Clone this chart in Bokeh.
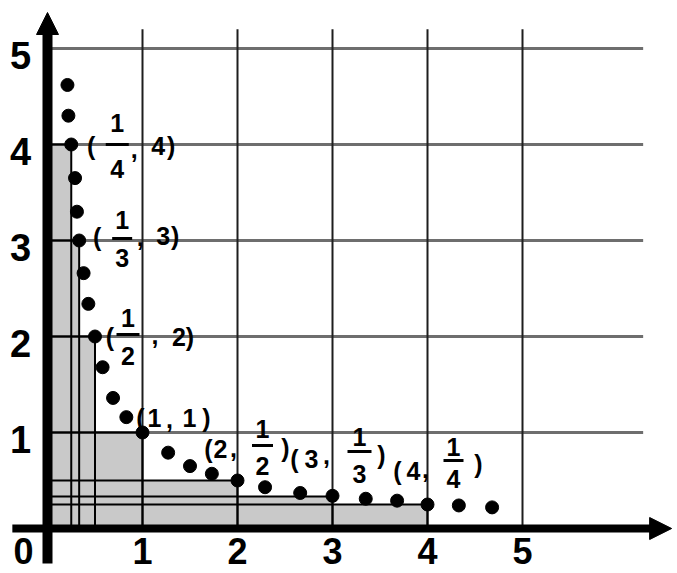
from bokeh.plotting import figure
from bokeh.models import ColumnDataSource, Range1d, Arrow, NormalHead
from bokeh.embed import file_html
from bokeh.resources import INLINE
from bokeh.core.properties import value

# ---------------- data ----------------
dot_x = [0.21, 0.22, 0.25, 0.29, 0.31, 1/3, 0.38, 0.43, 0.5, 0.58, 0.69, 0.83, 1.0,
         1.27, 1.5, 1.73, 2.0, 2.29, 2.66, 3.0, 3.35, 3.68, 4.0, 4.33, 4.68]
dot_y = [4.62, 4.3, 4.0, 3.65, 3.3, 3.0, 2.66, 2.34, 2.0, 1.68, 1.36, 1.16, 1.0,
         0.79, 0.65, 0.57, 0.5, 0.43, 0.37, 0.34, 0.31, 0.29, 0.25, 0.24, 0.22]

pt_x = [1/4, 1/3, 1/2, 1, 2, 3, 4]
pt_y = [4, 3, 2, 1, 1/2, 1/3, 1/4]
pt_x_text = ["1/4", "1/3", "1/2", "1", "2", "3", "4"]
pt_y_text = ["4", "3", "2", "1", "1/2", "1/3", "1/4"]

x_ticks = [1, 2, 3, 4, 5]
y_ticks = [1, 2, 3, 4, 5]
x_tick_labels = ["1", "2", "3", "4", "5"]
y_tick_labels = ["1", "2", "3", "4", "5"]
origin_label = "0"

grid_x_max = 6.27
grid_y_max = 5.2
axis_x_min = -0.37
axis_y_min = -0.365
axis_x_end = 6.57
axis_y_end = 5.375

# ---------------- layout ----------------
W, H = 677, 573
PX_X, PX_Y = 95.0, 96.0
OX, OY = 47.0, 528.0  # origin in figure pixels
x_start, x_end = -OX / PX_X, (W - OX) / PX_X
y_end, y_start = OY / PX_Y, (OY - H) / PX_Y

FONT = value("Liberation Sans")

p = figure(width=W, height=H, x_range=Range1d(x_start, x_end), y_range=Range1d(y_start, y_end),
           output_backend="svg", toolbar_location=None, min_border=0,
           x_axis_type=None, y_axis_type=None)
p.grid.visible = False
p.outline_line_color = None
p.background_fill_color = "white"
p.border_fill_color = "white"

# shaded rectangles
p.quad(left=[0] * len(pt_x), bottom=[0] * len(pt_x), right=pt_x, top=pt_y,
       fill_color="#c9c9c9", line_color=None)

# grid lines
p.segment(x0=[0] * len(y_ticks), y0=y_ticks, x1=[grid_x_max] * len(y_ticks), y1=y_ticks,
          line_color="#6e6e6e", line_width=3)
p.segment(x0=x_ticks, y0=[0] * len(x_ticks), x1=x_ticks, y1=[grid_y_max] * len(x_ticks),
          line_color="#1e1e1e", line_width=2)

# rectangle edges
p.segment(x0=pt_x, y0=[0] * len(pt_x), x1=pt_x, y1=pt_y, line_color="black", line_width=2)
p.segment(x0=[0] * len(pt_x), y0=pt_y, x1=pt_x, y1=pt_y, line_color="black", line_width=2)

# axes
p.segment(x0=[0], y0=[axis_y_min], x1=[0], y1=[axis_y_end - 14 / PX_Y],
          line_color="black", line_width=10)
p.segment(x0=[axis_x_min], y0=[0], x1=[axis_x_end - 14 / PX_X], y1=[0],
          line_color="black", line_width=8)
p.add_layout(Arrow(end=NormalHead(size=22, fill_color="black", line_color="black"),
                   x_start=0, y_start=axis_y_end - 0.3, x_end=0, y_end=axis_y_end, line_alpha=0))
p.add_layout(Arrow(end=NormalHead(size=22, fill_color="black", line_color="black"),
                   x_start=axis_x_end - 0.3, y_start=0, x_end=axis_x_end, y_end=0, line_alpha=0))

# dots
p.scatter(dot_x, dot_y, size=13, color="black")

# label layout (pixel offsets relative to each labelled point; y down)
LAYOUT = [
    dict(open=(20, 1), first=(46, 1), comma=(63, 4), second=(87, 1), close=(100, 1), num=-22, bar=0, den=24, half=11.5),
    dict(open=(18, -4), first=(43, -4), comma=(61, -4), second=(84, -5), close=(96, -5), num=-21, bar=-2, den=17, half=10),
    dict(open=(15, 0), first=(33, 0), comma=(60, -2), second=(84, 0), close=(95, 0), num=-19, bar=-2, den=19, half=11.5),
    dict(open=(-2, -15), first=(12, -15), comma=(27, -14), second=(47, -15), close=(64, -15), num=0, bar=0, den=0, half=0),
    dict(open=(-29, -32), first=(-17, -32), comma=(-4, -33), second=(25, -32), close=(48, -33), num=-52, bar=-35, den=-15, half=10.5),
    dict(open=(-38, -38), first=(-21, -38), comma=(-6, -42), second=(27, -38), close=(49, -42), num=-60, bar=-45, den=-23, half=12),
    dict(open=(-30, -34), first=(-14, -34), comma=(-2, -36), second=(26, -34), close=(51, -41), num=-58, bar=-44, den=-26, half=10),
]

tx, ty, tt, tdx, tdy = [], [], [], [], []
bx0, bx1, by = [], [], []


def add_text(i, s, dx, dy):
    tx.append(pt_x[i]); ty.append(pt_y[i]); tt.append(s); tdx.append(dx); tdy.append(dy)


def add_element(i, s, pos, lay):
    if "/" in s:
        num, den = s.split("/")
        cx = pos[0]
        add_text(i, num, cx, lay["num"])
        add_text(i, den, cx, lay["den"])
        bx0.append(pt_x[i] + (cx - lay["half"]) / PX_X)
        bx1.append(pt_x[i] + (cx + lay["half"]) / PX_X)
        by.append(pt_y[i] - lay["bar"] / PX_Y)
    else:
        add_text(i, s, pos[0], pos[1])


for i, lay in enumerate(LAYOUT):
    add_text(i, "(", *lay["open"])
    add_element(i, pt_x_text[i], lay["first"], lay)
    add_text(i, ",", *lay["comma"])
    add_element(i, pt_y_text[i], lay["second"], lay)
    add_text(i, ")", *lay["close"])

src = ColumnDataSource(dict(x=tx, y=ty, text=tt, dx=tdx, dy=tdy))
p.text(x="x", y="y", text="text", x_offset="dx", y_offset="dy", source=src,
       text_font=FONT, text_font_style="bold", text_font_size="25px",
       text_align="center", text_baseline="middle", text_color="black")
p.segment(x0=bx0, y0=by, x1=bx1, y1=by, line_color="black", line_width=3)

# tick labels
p.text(x=[0] * len(y_ticks), y=y_ticks, text=y_tick_labels, x_offset=-27, y_offset=7,
       text_font=FONT, text_font_style="bold", text_font_size="38px",
       text_align="center", text_baseline="middle", text_color="black")
p.text(x=x_ticks, y=[0] * len(x_ticks), text=x_tick_labels, x_offset=0, y_offset=22,
       text_font=FONT, text_font_style="bold", text_font_size="36px",
       text_align="center", text_baseline="middle", text_color="black")
p.text(x=[0], y=[0], text=[origin_label], x_offset=-24, y_offset=22,
       text_font=FONT, text_font_style="bold", text_font_size="36px",
       text_align="center", text_baseline="middle", text_color="black")

open("out.html", "w").write(file_html(p, INLINE))
